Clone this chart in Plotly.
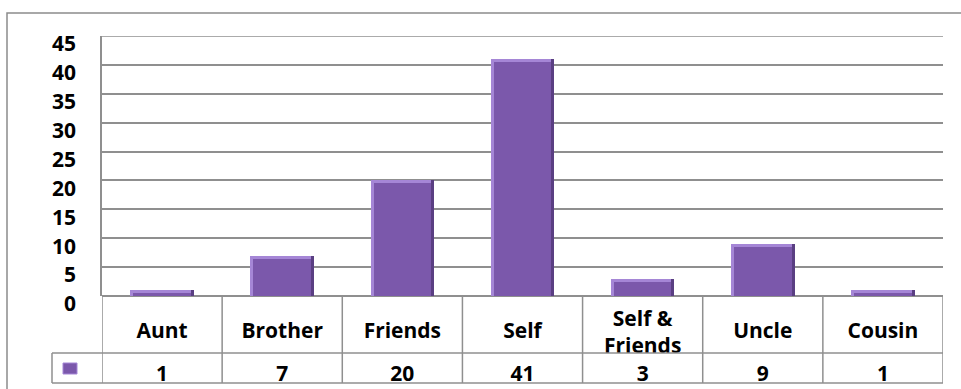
import textwrap
import plotly.graph_objects as go

# ---- data ----
categories = ["Aunt", "Brother", "Friends", "Self", "Self & Friends", "Uncle", "Cousin"]
values = [1, 7, 20, 41, 3, 9, 1]
y_ticks = [0, 5, 10, 15, 20, 25, 30, 35, 40, 45]

W, H = 961, 389
FONT = "Open Sans"
FS = 21
GRID = "#8f8f8f"
BAR = "#7b58ab"
BAR_LIGHT = "#a586d6"
BAR_DARK = "#5a3f82"


def px(x):
    return x / W


def py(y):
    return 1 - y / H


# pixel layout
PL, PR, PT, PB = 102, 943, 36, 296   # plot area
ROW1_B = 353                           # bottom of category row
ROW2_B = 383                           # bottom of value row
KEY_L = 52                             # left edge of legend-key cell
YMAX = 45
UNIT_PX = (PB - PT) / YMAX
BEVEL = 3 / UNIT_PX                    # ~3px bevel in data units

fig = go.Figure()

common = dict(x=categories, xaxis="x", yaxis="y", showlegend=False, hoverinfo="skip")
# bevelled bars: dark base, light highlight, mid-tone face
fig.add_trace(go.Bar(y=values, width=0.53, offset=-0.265,
                     marker=dict(color=BAR_DARK, line=dict(width=0)), **common))
fig.add_trace(go.Bar(y=values, width=0.505, offset=-0.265,
                     marker=dict(color=BAR_LIGHT, line=dict(width=0)), **common))
fig.add_trace(go.Bar(y=[max(v - BEVEL, 0) for v in values], width=0.48, offset=-0.24,
                     marker=dict(color=BAR, line=dict(width=0)), **common))

# category labels in the table (row 1), clipped to the cell row
cat_text = ["<br>".join(textwrap.wrap(c, 7)) for c in categories]
cat_y = [38.5 if "<br>" in t else 37 for t in cat_text]
fig.add_trace(go.Scatter(
    x=categories, y=cat_y, text=cat_text, mode="text", textposition="middle center",
    textfont=dict(family=FONT, size=FS, color="#000", weight="bold"),
    xaxis="x2", yaxis="y2", cliponaxis=True, showlegend=False, hoverinfo="skip",
))

# value labels in the table (row 2)
fig.add_trace(go.Scatter(
    x=categories, y=[23] * len(values), text=[str(v) for v in values],
    mode="text", textposition="middle center",
    textfont=dict(family=FONT, size=FS, color="#000", weight="bold"),
    xaxis="x3", yaxis="y3", cliponaxis=True, showlegend=False, hoverinfo="skip",
))

shapes = []
line = dict(color=GRID, width=1.5)
# top gridline (at the axis maximum)
shapes.append(dict(type="line", xref="paper", yref="y", layer="below",
                   x0=px(PL), x1=px(PR), y0=y_ticks[-1], y1=y_ticks[-1], line=line))
# table vertical lines (category boundaries)
for k in range(len(categories) + 1):
    shapes.append(dict(type="line", xref="x", yref="paper",
                       x0=k - 0.5, x1=k - 0.5, y0=py(ROW2_B), y1=py(PB), line=line))
# table horizontal lines
for yy in (ROW1_B, ROW2_B):
    shapes.append(dict(type="line", xref="paper", yref="paper",
                       x0=px(KEY_L), x1=px(PR), y0=py(yy), y1=py(yy), line=line))
shapes.append(dict(type="line", xref="paper", yref="paper",
                   x0=px(KEY_L), x1=px(KEY_L), y0=py(ROW2_B), y1=py(ROW1_B), line=line))
# legend key
shapes.append(dict(type="rect", xref="paper", yref="paper",
                   x0=px(63), x1=px(77), y0=py(374), y1=py(363),
                   fillcolor=BAR, line=dict(color=BAR_LIGHT, width=1)))
# outer chart frame
shapes.append(dict(type="rect", xref="paper", yref="paper",
                   x0=px(7), x1=1.02, y0=-0.03, y1=py(13),
                   line=dict(color="#8c8c8c", width=1.5), fillcolor="rgba(0,0,0,0)"))

hidden_x = dict(domain=[px(PL), px(PR)], range=[-0.5, 6.5], type="category",
                categoryorder="array", categoryarray=categories,
                visible=False, automargin=False)

fig.update_layout(
    width=W, height=H,
    barmode="overlay", bargap=0,
    margin=dict(l=0, r=0, t=0, b=0, autoexpand=False),
    paper_bgcolor="white", plot_bgcolor="white",
    shapes=shapes,
    xaxis=dict(domain=[px(PL), px(PR)], range=[-0.5, 6.5], type="category",
               categoryorder="array", categoryarray=categories,
               showticklabels=False, showgrid=False, zeroline=False, showline=False,
               automargin=False, anchor="y"),
    yaxis=dict(domain=[py(PB), py(PT)], range=[0, YMAX], tickvals=y_ticks,
               ticktext=[str(t) for t in y_ticks],
               showgrid=True, gridcolor=GRID, gridwidth=1.5,
               zeroline=True, zerolinecolor=GRID, zerolinewidth=1.5,
               showline=True, linecolor=GRID, linewidth=1.5,
               ticks="", ticklabelstandoff=20, ticklabelshift=8,
               tickfont=dict(family=FONT, size=FS, color="#000", weight="bold"),
               automargin=False, anchor="x"),
    xaxis2=dict(hidden_x, anchor="y2"),
    yaxis2=dict(domain=[py(ROW1_B), py(PB)], range=[ROW1_B - PB, 0],
                visible=False, automargin=False, anchor="x2"),
    xaxis3=dict(hidden_x, anchor="y3"),
    yaxis3=dict(domain=[py(ROW2_B), py(ROW1_B)], range=[ROW2_B - ROW1_B, 0],
                visible=False, automargin=False, anchor="x3"),
)

fig.write_html("out.html")
